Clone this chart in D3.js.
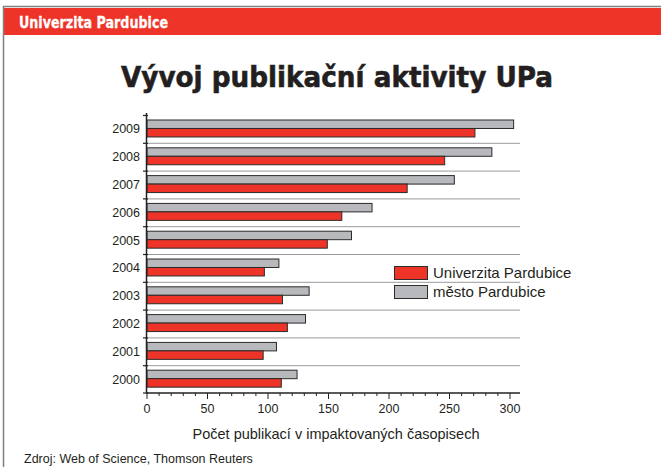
<!DOCTYPE html>
<html>
<head>
<meta charset="utf-8">
<script src="https://cdn.jsdelivr.net/npm/d3@7"></script>
<style>
  body { margin: 0; background: #fff; }
  svg { display: block; }
</style>
</head>
<body>
<svg id="chart"></svg>
<script>
const years = ['2009', '2008', '2007', '2006', '2005', '2004', '2003', '2002', '2001', '2000'];
const mesto = [303, 285, 254, 186, 169, 109, 134, 131, 107, 124];
const upa = [271, 246, 215, 161, 149, 97, 112, 116, 96, 111];
const seriesNames = ['Univerzita Pardubice', 'město Pardubice'];
const xTicks = [0, 50, 100, 150, 200, 250, 300];

const width = 661, height = 467;
const svg = d3.select('#chart').attr('width', width).attr('height', height);

// header bar
svg.append('rect')
  .attr('x', 4).attr('y', 8).attr('width', width - 4).attr('height', 27)
  .attr('fill', '#ee3428');
svg.append('line')
  .attr('x1', 3).attr('x2', width).attr('y1', 6.5).attr('y2', 6.5)
  .attr('stroke', '#808080').attr('stroke-width', 1.5);
svg.append('line')
  .attr('x1', 3.5).attr('x2', 3.5).attr('y1', 6).attr('y2', height)
  .attr('stroke', '#808080').attr('stroke-width', 1.5);
svg.append('text')
  .attr('x', 19).attr('y', 28)
  .attr('font-family', 'DejaVu Sans')
  .attr('font-weight', 'bold')
  .attr('font-size', '16px')
  .attr('textLength', 149)
  .attr('lengthAdjust', 'spacingAndGlyphs')
  .attr('fill', '#fff')
  .attr('stroke', '#fff').attr('stroke-width', 0.3)
  .text('Univerzita Pardubice');

// title
svg.append('text')
  .attr('x', 121).attr('y', 87)
  .attr('font-family', 'DejaVu Sans')
  .attr('font-weight', 'bold')
  .attr('font-size', '27.5px')
  .attr('textLength', 432)
  .attr('lengthAdjust', 'spacingAndGlyphs')
  .attr('fill', '#231f20')
  .attr('stroke', '#231f20').attr('stroke-width', 0.6)
  .text('Vývoj publikační aktivity UPa');

const x = d3.scaleLinear().domain([0, 300]).range([147, 510]);
const y = d3.scaleBand().domain(years).range([115, 393]).padding(0);
const bw = y.bandwidth();
const sub = d3.scaleBand().domain(['mesto', 'upa']).range([bw * 0.18, bw * 0.79]).padding(0);

const rows = years.map((yr, i) => ({year: yr, mesto: mesto[i], upa: upa[i]}));

// separators
svg.append('g').selectAll('line')
  .data(years.slice(0, -1))
  .join('line')
  .attr('x1', x(0)).attr('x2', 520)
  .attr('y1', d => y(d) + bw + 0.5).attr('y2', d => y(d) + bw + 0.5)
  .attr('stroke', '#9a9a9a').attr('stroke-width', 1);

const colors = {mesto: '#b8b9bd', upa: '#ee3428'};

const barG = svg.append('g');
['mesto', 'upa'].forEach(key => {
  barG.selectAll('.bar-' + key)
    .data(rows)
    .join('rect')
    .attr('class', 'bar-' + key)
    .attr('x', x(0))
    .attr('y', d => y(d.year) + sub(key))
    .attr('width', d => x(d[key]) - x(0))
    .attr('height', sub.bandwidth())
    .attr('fill', colors[key])
    .attr('stroke', '#2b2b2b')
    .attr('stroke-width', 1);
});

// y axis
const yAxis = svg.append('g');
yAxis.append('line')
  .attr('x1', x(0) - 0.5).attr('x2', x(0) - 0.5).attr('y1', 113).attr('y2', 393)
  .attr('stroke', '#222').attr('stroke-width', 1.5);
yAxis.selectAll('.ytick')
  .data(years.concat(['end']))
  .join('line')
  .attr('class', 'ytick')
  .attr('x1', x(0) - 4).attr('x2', x(0) + 1)
  .attr('y1', d => d === 'end' ? 393 : y(d) + 0.5)
  .attr('y2', d => d === 'end' ? 393 : y(d) + 0.5)
  .attr('stroke', '#222').attr('stroke-width', 1.2);
yAxis.selectAll('.ylabel')
  .data(years)
  .join('text')
  .attr('class', 'ylabel')
  .attr('x', 140)
  .attr('y', d => y(d) + bw / 2 + 4.5)
  .attr('text-anchor', 'end')
  .attr('font-family', 'Liberation Sans')
  .attr('font-size', '12.5px')
  .attr('fill', '#231f20')
  .text(d => d);

// x axis
const xAxis = svg.append('g').attr('transform', 'translate(0,393)');
xAxis.append('line')
  .attr('x1', x(0) - 1).attr('x2', 520).attr('y1', 0).attr('y2', 0)
  .attr('stroke', '#222').attr('stroke-width', 1.5);
xAxis.selectAll('.minor')
  .data(d3.range(0, 301, 10))
  .join('line')
  .attr('class', 'minor')
  .attr('x1', d => x(d)).attr('x2', d => x(d))
  .attr('y1', 0).attr('y2', d => d % 50 === 0 ? 6 : 3)
  .attr('stroke', '#222').attr('stroke-width', 1);
xAxis.selectAll('.xlabel')
  .data(xTicks)
  .join('text')
  .attr('class', 'xlabel')
  .attr('x', d => x(d))
  .attr('y', 20)
  .attr('text-anchor', 'middle')
  .attr('font-family', 'Liberation Sans')
  .attr('font-size', '12.5px')
  .attr('fill', '#231f20')
  .text(d => d);

svg.append('text')
  .attr('x', 336).attr('y', 439)
  .attr('text-anchor', 'middle')
  .attr('font-family', 'Liberation Sans')
  .attr('font-size', '14.5px')
  .attr('fill', '#231f20')
  .text('Počet publikací v impaktovaných časopisech');

// legend
const legend = svg.append('g').attr('transform', 'translate(394,266)');
legend.selectAll('rect')
  .data(['upa', 'mesto'])
  .join('rect')
  .attr('x', 0.5)
  .attr('y', (d, i) => i * 19 + 0.5)
  .attr('width', 33).attr('height', 13)
  .attr('fill', d => colors[d])
  .attr('stroke', '#2b2b2b').attr('stroke-width', 1);
legend.selectAll('text')
  .data(seriesNames)
  .join('text')
  .attr('x', 39)
  .attr('y', (d, i) => i * 19 + 12)
  .attr('font-family', 'Liberation Sans')
  .attr('font-size', '15px')
  .attr('fill', '#231f20')
  .text(d => d);

// source
svg.append('text')
  .attr('x', 24).attr('y', 463)
  .attr('font-family', 'Liberation Sans')
  .attr('font-size', '12.5px')
  .attr('fill', '#231f20')
  .text('Zdroj: Web of Science, Thomson Reuters');
</script>
</body>
</html>
